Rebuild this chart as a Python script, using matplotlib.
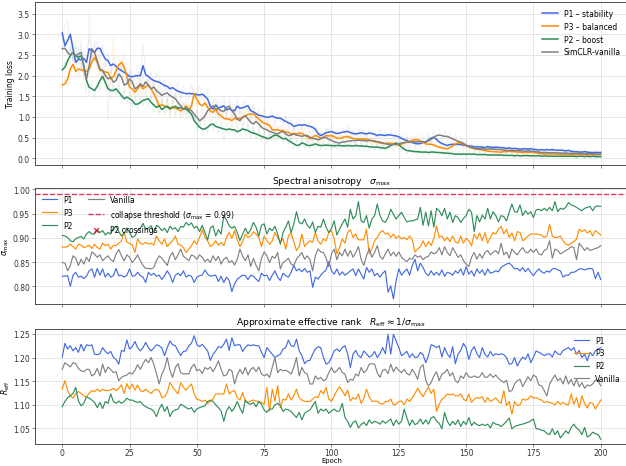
import numpy as np
import matplotlib
matplotlib.use("Agg")
import matplotlib.pyplot as plt

# smoothed training loss, one value per epoch (0..200)
loss_p1 = [3.03, 2.72, 2.85, 3.00, 2.65, 2.32, 2.40, 2.38, 2.42, 2.32,
           2.65, 2.60, 2.56, 2.66, 2.66, 2.52, 2.40, 2.36, 2.24, 2.28,
           2.22, 2.16, 2.12, 2.08, 2.04, 1.98, 1.97, 1.99, 2.00, 2.00,
           2.24, 2.02, 1.98, 1.92, 1.88, 1.86, 1.84, 1.80, 1.76, 1.74,
           1.68, 1.71, 1.66, 1.62, 1.60, 1.58, 1.56, 1.57, 1.56, 1.56,
           1.54, 1.53, 1.55, 1.50, 1.43, 1.26, 1.19, 1.29, 1.21, 1.24,
           1.27, 1.17, 1.20, 1.16, 1.15, 1.26, 1.21, 1.22, 1.25, 1.27,
           1.15, 1.12, 1.08, 1.04, 1.03, 1.01, 0.99, 1.00, 1.02, 0.99,
           0.97, 0.97, 0.93, 0.89, 0.86, 0.83, 0.77, 0.79, 0.81, 0.80,
           0.81, 0.79, 0.77, 0.75, 0.70, 0.60, 0.55, 0.58, 0.62, 0.63,
           0.65, 0.62, 0.60, 0.61, 0.63, 0.64, 0.65, 0.62, 0.60, 0.59,
           0.60, 0.62, 0.60, 0.59, 0.61, 0.60, 0.58, 0.55, 0.57, 0.56,
           0.55, 0.57, 0.56, 0.55, 0.54, 0.52, 0.48, 0.45, 0.43, 0.40,
           0.38, 0.36, 0.35, 0.36, 0.38, 0.40, 0.44, 0.49, 0.51, 0.46,
           0.39, 0.36, 0.33, 0.31, 0.33, 0.34, 0.33, 0.34, 0.33, 0.32,
           0.31, 0.30, 0.29, 0.28, 0.27, 0.28, 0.27, 0.26, 0.28, 0.27,
           0.26, 0.27, 0.26, 0.26, 0.25, 0.24, 0.25, 0.23, 0.24, 0.23,
           0.22, 0.23, 0.23, 0.22, 0.23, 0.22, 0.21, 0.20, 0.21, 0.20,
           0.21, 0.20, 0.21, 0.20, 0.19, 0.20, 0.19, 0.18, 0.19, 0.17,
           0.16, 0.16, 0.15, 0.15, 0.16, 0.15, 0.14, 0.14, 0.14, 0.14,
           0.14]
loss_p3 = [1.77, 1.80, 1.92, 2.16, 2.27, 2.10, 2.16, 2.14, 2.12, 2.10,
           2.15, 2.32, 2.44, 2.32, 2.12, 2.12, 2.08, 2.08, 1.92, 1.98,
           2.12, 2.26, 2.32, 2.20, 2.00, 1.72, 1.68, 1.60, 1.68, 1.77,
           1.68, 1.73, 1.77, 1.68, 1.56, 1.43, 1.27, 1.29, 1.27, 1.23,
           1.23, 1.23, 1.21, 1.19, 1.15, 1.19, 1.27, 1.15, 1.27, 1.56,
           1.43, 1.31, 1.27, 1.34, 1.23, 1.15, 1.11, 1.19, 1.07, 1.03,
           0.97, 0.95, 0.95, 0.91, 0.97, 0.94, 0.97, 0.99, 1.03, 1.06,
           1.07, 1.07, 1.01, 0.95, 0.89, 0.85, 0.83, 0.79, 0.69, 0.69,
           0.69, 0.67, 0.67, 0.63, 0.63, 0.59, 0.60, 0.59, 0.61, 0.60,
           0.56, 0.52, 0.47, 0.51, 0.55, 0.53, 0.48, 0.50, 0.55, 0.54,
           0.55, 0.52, 0.49, 0.48, 0.50, 0.52, 0.53, 0.50, 0.48, 0.47,
           0.46, 0.47, 0.46, 0.47, 0.44, 0.42, 0.40, 0.39, 0.37, 0.36,
           0.36, 0.37, 0.36, 0.35, 0.33, 0.32, 0.34, 0.37, 0.39, 0.41,
           0.43, 0.45, 0.45, 0.41, 0.38, 0.35, 0.34, 0.34, 0.32, 0.29,
           0.27, 0.25, 0.24, 0.23, 0.26, 0.30, 0.35, 0.37, 0.37, 0.34,
           0.31, 0.28, 0.25, 0.23, 0.22, 0.21, 0.20, 0.19, 0.17, 0.17,
           0.16, 0.16, 0.15, 0.15, 0.16, 0.16, 0.17, 0.16, 0.16, 0.15,
           0.15, 0.14, 0.15, 0.14, 0.15, 0.14, 0.13, 0.12, 0.11, 0.11,
           0.10, 0.11, 0.10, 0.11, 0.10, 0.10, 0.10, 0.09, 0.10, 0.09,
           0.09, 0.09, 0.10, 0.09, 0.09, 0.08, 0.09, 0.09, 0.08, 0.09,
           0.09]
loss_p2 = [2.14, 2.20, 2.36, 2.48, 2.56, 2.48, 2.44, 2.48, 2.24, 1.88,
           1.72, 1.68, 1.64, 1.74, 1.88, 1.98, 1.84, 1.68, 1.64, 1.64,
           1.68, 1.60, 1.52, 1.44, 1.48, 1.44, 1.40, 1.31, 1.31, 1.35,
           1.40, 1.42, 1.44, 1.35, 1.29, 1.23, 1.27, 1.18, 1.23, 1.26,
           1.19, 1.23, 1.26, 1.21, 1.23, 1.19, 1.19, 1.13, 1.07, 0.91,
           0.83, 0.75, 0.71, 0.71, 0.75, 0.81, 0.83, 0.77, 0.75, 0.73,
           0.71, 0.69, 0.71, 0.69, 0.69, 0.64, 0.67, 0.71, 0.69, 0.67,
           0.63, 0.61, 0.59, 0.56, 0.53, 0.51, 0.48, 0.48, 0.53, 0.56,
           0.55, 0.51, 0.47, 0.48, 0.43, 0.39, 0.35, 0.31, 0.32, 0.37,
           0.35, 0.31, 0.31, 0.32, 0.35, 0.32, 0.31, 0.31, 0.32, 0.31,
           0.31, 0.30, 0.31, 0.31, 0.30, 0.30, 0.31, 0.30, 0.30, 0.31,
           0.30, 0.30, 0.29, 0.29, 0.28, 0.27, 0.27, 0.27, 0.26, 0.25,
           0.24, 0.27, 0.31, 0.34, 0.37, 0.33, 0.27, 0.22, 0.19, 0.18,
           0.17, 0.16, 0.16, 0.15, 0.15, 0.15, 0.14, 0.15, 0.15, 0.14,
           0.14, 0.13, 0.13, 0.12, 0.12, 0.11, 0.10, 0.10, 0.10, 0.10,
           0.10, 0.10, 0.10, 0.10, 0.09, 0.09, 0.09, 0.09, 0.08, 0.08,
           0.08, 0.08, 0.08, 0.08, 0.07, 0.07, 0.07, 0.07, 0.06, 0.07,
           0.06, 0.06, 0.07, 0.06, 0.06, 0.06, 0.06, 0.06, 0.05, 0.06,
           0.05, 0.05, 0.05, 0.05, 0.05, 0.05, 0.05, 0.05, 0.05, 0.05,
           0.05, 0.04, 0.05, 0.05, 0.04, 0.05, 0.04, 0.05, 0.04, 0.04,
           0.04]
loss_vanilla = [2.65, 2.66, 2.56, 2.50, 2.56, 2.48, 2.52, 2.56, 2.24, 1.92,
                2.24, 2.65, 2.55, 2.36, 2.16, 2.12, 2.00, 1.92, 1.96, 1.84,
                1.88, 2.04, 1.96, 1.77, 1.80, 1.92, 1.84, 1.68, 1.72, 1.80,
                1.74, 1.85, 1.77, 1.68, 1.72, 1.64, 1.58, 1.52, 1.56, 1.58,
                1.52, 1.48, 1.44, 1.35, 1.27, 1.19, 1.23, 1.19, 1.15, 1.07,
                0.99, 0.91, 0.95, 1.03, 1.15, 1.21, 1.27, 1.19, 1.19, 1.15,
                1.13, 1.23, 1.26, 1.15, 1.07, 0.95, 0.91, 0.99, 1.03, 0.95,
                0.87, 0.83, 0.89, 0.83, 0.75, 0.71, 0.69, 0.65, 0.63, 0.60,
                0.59, 0.63, 0.65, 0.59, 0.55, 0.56, 0.59, 0.56, 0.55, 0.53,
                0.55, 0.55, 0.51, 0.48, 0.47, 0.45, 0.47, 0.51, 0.50, 0.46,
                0.43, 0.40, 0.38, 0.37, 0.39, 0.40, 0.41, 0.42, 0.43, 0.43,
                0.44, 0.43, 0.43, 0.42, 0.43, 0.43, 0.42, 0.40, 0.39, 0.37,
                0.35, 0.34, 0.33, 0.33, 0.34, 0.35, 0.37, 0.38, 0.39, 0.39,
                0.39, 0.40, 0.40, 0.41, 0.40, 0.39, 0.42, 0.46, 0.50, 0.55,
                0.56, 0.55, 0.53, 0.53, 0.50, 0.47, 0.44, 0.41, 0.39, 0.36,
                0.31, 0.28, 0.26, 0.24, 0.23, 0.23, 0.23, 0.22, 0.22, 0.23,
                0.22, 0.22, 0.21, 0.21, 0.20, 0.19, 0.19, 0.19, 0.18, 0.19,
                0.18, 0.18, 0.17, 0.18, 0.17, 0.17, 0.16, 0.15, 0.14, 0.14,
                0.14, 0.13, 0.14, 0.13, 0.13, 0.13, 0.12, 0.13, 0.12, 0.12,
                0.12, 0.12, 0.11, 0.12, 0.11, 0.11, 0.11, 0.11, 0.11, 0.10,
                0.10]

# raw per-epoch loss, drawn faintly behind the smoothed curves
raw_p1 = [2.95, 3.20, 3.33, 2.75, 2.40, 2.05, 2.70, 2.15, 2.60, 2.45,
          2.95, 2.35, 2.70, 2.85, 2.40, 2.75, 2.20, 2.55, 2.05, 2.45,
          2.30, 1.95, 2.40, 2.25, 1.80, 2.15, 1.85, 1.90, 2.25, 1.75,
          2.77, 2.05, 1.80, 2.10, 1.70, 2.05, 1.95, 1.55, 1.90, 1.60,
          1.85, 1.55, 1.50, 1.85, 1.45, 1.75, 1.65, 1.40, 1.80, 1.45,
          1.60, 1.75, 1.40, 1.55, 1.65, 1.05, 1.30, 1.45, 1.00, 1.35,
          1.50, 1.05, 1.25, 1.35, 0.95, 1.45, 1.05, 1.30, 1.40, 1.15,
          1.05, 1.30, 0.95, 1.15, 0.90, 1.20, 0.88, 1.05, 1.15, 0.85,
          1.10, 0.90, 0.85, 1.05, 0.75, 0.95, 0.65, 0.90, 0.95, 0.70,
          0.92, 0.70, 0.88, 0.65, 0.85, 0.50, 0.62, 0.48, 0.72, 0.68,
          0.78, 0.55, 0.70, 0.52, 0.75, 0.60, 0.78, 0.50, 0.68, 0.55,
          0.72, 0.55, 0.68, 0.50, 0.72, 0.55, 0.65, 0.48, 0.66, 0.50,
          0.62, 0.52, 0.66, 0.48, 0.62, 0.45, 0.55, 0.40, 0.50, 0.36,
          0.44, 0.32, 0.41, 0.30, 0.45, 0.35, 0.52, 0.44, 0.58, 0.40,
          0.45, 0.30, 0.38, 0.27, 0.40, 0.28, 0.39, 0.29, 0.38, 0.27,
          0.36, 0.25, 0.34, 0.24, 0.32, 0.24, 0.31, 0.22, 0.33, 0.23,
          0.31, 0.22, 0.30, 0.22, 0.29, 0.20, 0.29, 0.19, 0.28, 0.19,
          0.27, 0.18, 0.27, 0.18, 0.27, 0.18, 0.25, 0.16, 0.25, 0.16,
          0.25, 0.16, 0.25, 0.16, 0.23, 0.16, 0.23, 0.14, 0.23, 0.13,
          0.20, 0.12, 0.19, 0.11, 0.20, 0.11, 0.18, 0.10, 0.18, 0.11,
          0.16]
raw_p3 = [1.70, 1.95, 1.75, 2.35, 2.15, 2.45, 1.95, 2.30, 1.95, 2.25,
          1.95, 2.55, 2.30, 2.60, 1.90, 2.35, 1.90, 2.25, 1.70, 2.96,
          1.85, 2.45, 2.10, 2.55, 1.75, 1.95, 1.45, 1.85, 1.50, 1.95,
          1.55, 1.90, 1.60, 1.95, 1.35, 1.65, 1.10, 1.45, 1.05, 1.45,
          1.05, 1.40, 1.00, 1.35, 0.95, 1.40, 1.05, 1.35, 1.10, 1.75,
          1.25, 1.50, 1.10, 1.55, 1.05, 1.35, 0.95, 1.35, 0.90, 1.20,
          0.80, 1.10, 0.80, 1.10, 0.75, 1.15, 0.80, 1.15, 0.85, 1.25,
          0.90, 1.25, 0.85, 1.10, 0.75, 1.00, 0.70, 0.95, 0.55, 0.85,
          0.55, 0.82, 0.52, 0.78, 0.50, 0.75, 0.45, 0.75, 0.48, 0.75,
          0.42, 0.68, 0.35, 0.65, 0.42, 0.68, 0.38, 0.62, 0.42, 0.68,
          0.44, 0.65, 0.40, 0.60, 0.38, 0.64, 0.42, 0.62, 0.38, 0.58,
          0.38, 0.56, 0.37, 0.57, 0.35, 0.52, 0.31, 0.49, 0.28, 0.46,
          0.28, 0.46, 0.27, 0.45, 0.25, 0.42, 0.26, 0.47, 0.30, 0.51,
          0.34, 0.55, 0.36, 0.51, 0.29, 0.45, 0.26, 0.43, 0.24, 0.38,
          0.20, 0.32, 0.18, 0.30, 0.20, 0.38, 0.28, 0.45, 0.30, 0.42,
          0.24, 0.35, 0.19, 0.30, 0.16, 0.28, 0.15, 0.25, 0.12, 0.23,
          0.11, 0.22, 0.10, 0.21, 0.11, 0.22, 0.12, 0.22, 0.11, 0.20,
          0.10, 0.20, 0.10, 0.19, 0.10, 0.19, 0.08, 0.17, 0.07, 0.16,
          0.06, 0.15, 0.06, 0.15, 0.06, 0.14, 0.06, 0.13, 0.06, 0.13,
          0.05, 0.13, 0.06, 0.13, 0.05, 0.12, 0.05, 0.13, 0.04, 0.12,
          0.06]
raw_p2 = [2.05, 2.35, 2.20, 2.70, 2.35, 2.75, 2.25, 2.70, 2.00, 2.10,
          1.50, 1.90, 1.45, 1.85, 1.65, 2.20, 1.65, 1.95, 1.45, 1.80,
          1.50, 1.80, 1.35, 1.65, 1.30, 1.60, 1.25, 1.50, 1.15, 1.50,
          1.25, 1.60, 1.25, 1.55, 1.10, 1.45, 1.05, 1.40, 1.05, 1.45,
          1.00, 1.40, 1.05, 1.40, 1.05, 1.35, 1.00, 1.30, 0.90, 1.10,
          0.65, 0.95, 0.55, 0.85, 0.60, 0.95, 0.65, 0.95, 0.60, 0.90,
          0.40, 0.85, 0.55, 0.85, 0.55, 0.80, 0.52, 0.85, 0.55, 0.82,
          0.48, 0.75, 0.45, 0.72, 0.40, 0.65, 0.35, 0.62, 0.40, 0.70,
          0.42, 0.65, 0.35, 0.60, 0.32, 0.52, 0.22, 0.45, 0.20, 0.50,
          0.22, 0.45, 0.20, 0.45, 0.22, 0.48, 0.20, 0.42, 0.20, 0.44,
          0.20, 0.42, 0.20, 0.42, 0.19, 0.41, 0.20, 0.40, 0.19, 0.42,
          0.19, 0.41, 0.18, 0.40, 0.18, 0.37, 0.17, 0.37, 0.16, 0.35,
          0.14, 0.37, 0.22, 0.46, 0.28, 0.44, 0.16, 0.32, 0.10, 0.27,
          0.09, 0.24, 0.09, 0.22, 0.08, 0.22, 0.07, 0.22, 0.08, 0.21,
          0.07, 0.21, 0.06, 0.19, 0.05, 0.18, 0.04, 0.16, 0.04, 0.16,
          0.04, 0.16, 0.04, 0.16, 0.03, 0.15, 0.03, 0.15, 0.03, 0.14,
          0.03, 0.14, 0.03, 0.14, 0.03, 0.12, 0.03, 0.12, 0.02, 0.12,
          0.02, 0.11, 0.02, 0.11, 0.02, 0.11, 0.02, 0.11, 0.02, 0.11,
          0.02, 0.10, 0.02, 0.10, 0.02, 0.10, 0.02, 0.10, 0.02, 0.10,
          0.02, 0.09, 0.02, 0.09, 0.02, 0.09, 0.02, 0.09, 0.02, 0.08,
          0.02]
raw_vanilla = [2.55, 2.80, 2.45, 2.70, 2.35, 2.70, 2.30, 2.85, 1.95, 1.55,
               3.60, 2.40, 2.85, 2.10, 2.45, 1.85, 2.25, 0.91, 2.15, 1.60,
               2.10, 1.75, 2.30, 1.55, 2.05, 1.60, 2.15, 1.45, 2.00, 1.50,
               2.05, 1.55, 2.00, 1.45, 1.95, 1.40, 1.85, 1.30, 1.80, 1.35,
               1.75, 1.30, 1.65, 1.15, 1.50, 1.00, 1.45, 0.95, 1.40, 0.85,
               1.20, 0.75, 1.15, 0.85, 1.35, 1.00, 1.45, 1.00, 1.40, 0.95,
               1.35, 1.00, 1.45, 0.95, 1.30, 0.75, 1.15, 0.80, 1.25, 0.75,
               1.05, 0.65, 1.10, 0.62, 0.95, 0.55, 0.90, 0.45, 0.85, 0.40,
               0.80, 0.45, 0.85, 0.40, 0.75, 0.38, 0.78, 0.38, 0.75, 0.35,
               0.75, 0.35, 0.72, 0.30, 0.68, 0.28, 0.65, 0.32, 0.70, 0.30,
               0.60, 0.25, 0.55, 0.22, 0.58, 0.24, 0.60, 0.25, 0.62, 0.26,
               0.62, 0.26, 0.62, 0.25, 0.62, 0.26, 0.60, 0.22, 0.58, 0.20,
               0.52, 0.18, 0.50, 0.17, 0.52, 0.18, 0.55, 0.22, 0.56, 0.22,
               0.56, 0.24, 0.57, 0.25, 0.56, 0.24, 0.60, 0.32, 0.68, 0.42,
               0.72, 0.40, 0.70, 0.38, 0.66, 0.30, 0.60, 0.25, 0.55, 0.20,
               0.45, 0.16, 0.38, 0.14, 0.33, 0.14, 0.32, 0.13, 0.31, 0.14,
               0.30, 0.13, 0.30, 0.12, 0.28, 0.11, 0.27, 0.11, 0.26, 0.11,
               0.25, 0.10, 0.25, 0.10, 0.24, 0.09, 0.23, 0.08, 0.21, 0.07,
               0.21, 0.06, 0.21, 0.06, 0.20, 0.06, 0.19, 0.06, 0.19, 0.05,
               0.19, 0.05, 0.18, 0.05, 0.18, 0.04, 0.17, 0.04, 0.17, 0.04,
               0.16]

# largest normalised singular value per epoch
sigma_p1 = [0.821, 0.821, 0.822, 0.800, 0.823, 0.829, 0.819, 0.821, 0.816, 0.821,
            0.832, 0.836, 0.819, 0.837, 0.823, 0.836, 0.819, 0.827, 0.819, 0.822,
            0.837, 0.822, 0.823, 0.819, 0.823, 0.836, 0.821, 0.822, 0.829, 0.822,
            0.819, 0.808, 0.829, 0.823, 0.827, 0.821, 0.823, 0.814, 0.822, 0.832,
            0.823, 0.808, 0.823, 0.827, 0.822, 0.832, 0.819, 0.823, 0.821, 0.808,
            0.819, 0.822, 0.823, 0.834, 0.825, 0.821, 0.822, 0.823, 0.810, 0.821,
            0.808, 0.819, 0.812, 0.789, 0.805, 0.815, 0.819, 0.823, 0.822, 0.814,
            0.823, 0.821, 0.815, 0.810, 0.827, 0.822, 0.823, 0.812, 0.823, 0.832,
            0.819, 0.812, 0.827, 0.822, 0.819, 0.829, 0.843, 0.832, 0.836, 0.830,
            0.837, 0.829, 0.832, 0.798, 0.819, 0.815, 0.823, 0.829, 0.834, 0.851,
            0.832, 0.825, 0.836, 0.823, 0.830, 0.823, 0.827, 0.832, 0.836, 0.822,
            0.836, 0.825, 0.815, 0.839, 0.829, 0.836, 0.822, 0.827, 0.819, 0.827,
            0.832, 0.788, 0.801, 0.774, 0.812, 0.836, 0.823, 0.830, 0.836, 0.823,
            0.843, 0.856, 0.832, 0.848, 0.839, 0.827, 0.822, 0.832, 0.823, 0.829,
            0.823, 0.834, 0.821, 0.829, 0.827, 0.823, 0.832, 0.827, 0.836, 0.823,
            0.841, 0.825, 0.832, 0.821, 0.836, 0.827, 0.834, 0.823, 0.836, 0.827,
            0.829, 0.832, 0.830, 0.839, 0.843, 0.846, 0.848, 0.843, 0.836, 0.837,
            0.832, 0.839, 0.830, 0.837, 0.829, 0.822, 0.830, 0.836, 0.830, 0.827,
            0.832, 0.829, 0.836, 0.837, 0.834, 0.832, 0.819, 0.823, 0.823, 0.829,
            0.829, 0.832, 0.836, 0.836, 0.834, 0.836, 0.837, 0.836, 0.816, 0.829,
            0.814]
sigma_p3 = [0.881, 0.881, 0.882, 0.887, 0.882, 0.877, 0.887, 0.885, 0.880, 0.882,
            0.885, 0.878, 0.887, 0.880, 0.877, 0.889, 0.884, 0.887, 0.877, 0.885,
            0.884, 0.889, 0.894, 0.911, 0.891, 0.889, 0.885, 0.870, 0.898, 0.889,
            0.887, 0.891, 0.887, 0.889, 0.885, 0.904, 0.894, 0.887, 0.898, 0.882,
            0.889, 0.894, 0.904, 0.887, 0.885, 0.880, 0.870, 0.877, 0.884, 0.894,
            0.887, 0.901, 0.917, 0.901, 0.894, 0.882, 0.887, 0.894, 0.885, 0.891,
            0.884, 0.901, 0.911, 0.899, 0.915, 0.896, 0.882, 0.892, 0.908, 0.901,
            0.904, 0.913, 0.908, 0.901, 0.882, 0.904, 0.894, 0.887, 0.894, 0.911,
            0.901, 0.892, 0.898, 0.877, 0.904, 0.911, 0.892, 0.874, 0.882, 0.908,
            0.882, 0.889, 0.894, 0.891, 0.911, 0.894, 0.887,
            0.898, 0.894, 0.911, 0.915, 0.898, 0.867, 0.880, 0.898, 0.889, 0.911,
            0.917, 0.901, 0.908, 0.896, 0.896, 0.896, 0.918, 0.867, 0.878, 0.894,
            0.901, 0.911, 0.915, 0.908, 0.910, 0.901, 0.908, 0.899, 0.904, 0.898,
            0.901, 0.896, 0.904, 0.896, 0.871, 0.877, 0.882, 0.894, 0.882, 0.892,
            0.884, 0.899, 0.925, 0.901, 0.904, 0.894, 0.901, 0.892, 0.904, 0.892,
            0.889, 0.904, 0.889, 0.899, 0.894, 0.884, 0.908, 0.898, 0.910, 0.894,
            0.911, 0.889, 0.901, 0.911, 0.908, 0.918, 0.924, 0.908, 0.918, 0.901,
            0.910, 0.894, 0.913, 0.911, 0.894, 0.898, 0.904, 0.908, 0.908, 0.908,
            0.907, 0.906, 0.901, 0.904, 0.928, 0.904, 0.901, 0.901, 0.904, 0.894,
            0.887, 0.885, 0.889, 0.892, 0.898, 0.918, 0.913, 0.917, 0.910, 0.915,
            0.904, 0.915, 0.911, 0.906]
sigma_p2 = [0.905, 0.904, 0.901, 0.894, 0.892, 0.898, 0.901, 0.903, 0.898, 0.908,
            0.913, 0.908, 0.908, 0.917, 0.911, 0.915, 0.906, 0.911, 0.908, 0.920,
            0.924, 0.913, 0.904, 0.910, 0.920, 0.911, 0.901, 0.904, 0.915, 0.920,
            0.930, 0.918, 0.920, 0.925, 0.911, 0.926, 0.922, 0.915, 0.920, 0.911,
            0.924, 0.918, 0.921, 0.913, 0.924, 0.922, 0.932, 0.926, 0.931, 0.920,
            0.924, 0.913, 0.926, 0.911, 0.896, 0.920, 0.925, 0.904, 0.917, 0.908,
            0.946, 0.937, 0.925, 0.920, 0.924, 0.911, 0.894, 0.908, 0.920, 0.908,
            0.917, 0.932, 0.922, 0.904, 0.926, 0.929, 0.908, 0.920, 0.915, 0.924,
            0.908, 0.887, 0.911, 0.922, 0.935, 0.911, 0.929, 0.954, 0.932, 0.929,
            0.939, 0.926, 0.920, 0.933, 0.911, 0.924, 0.922,
            0.939, 0.922, 0.911, 0.920, 0.935, 0.906, 0.918, 0.929, 0.939, 0.922,
            0.959, 0.939, 0.946, 0.975, 0.935, 0.932, 0.946, 0.920, 0.939, 0.946,
            0.970, 0.946, 0.935, 0.932, 0.942, 0.959, 0.949, 0.939, 0.946, 0.953,
            0.942, 0.933, 0.935, 0.935, 0.937, 0.939, 0.963, 0.926, 0.953, 0.925,
            0.956, 0.922, 0.961, 0.956, 0.946, 0.961, 0.939, 0.953, 0.932, 0.946,
            0.942, 0.932, 0.940, 0.946, 0.959, 0.953, 0.913, 0.946, 0.933, 0.947,
            0.939, 0.961, 0.939, 0.954, 0.946, 0.933, 0.946, 0.944, 0.935, 0.953,
            0.970, 0.954, 0.953, 0.968, 0.946, 0.956, 0.949, 0.954, 0.942, 0.958,
            0.959, 0.956, 0.961, 0.956, 0.963, 0.956, 0.975, 0.954, 0.961, 0.959,
            0.963, 0.973, 0.968, 0.966, 0.963, 0.959, 0.956, 0.961, 0.963, 0.965,
            0.956, 0.965, 0.966, 0.965]
sigma_vanilla = [0.849, 0.848, 0.832, 0.843, 0.863, 0.858, 0.843, 0.856, 0.846, 0.860,
                 0.851, 0.871, 0.867, 0.860, 0.865, 0.853, 0.858, 0.863, 0.855, 0.851,
                 0.867, 0.876, 0.863, 0.853, 0.865, 0.860, 0.849, 0.856, 0.865, 0.853,
                 0.843, 0.837, 0.837, 0.836, 0.839, 0.853, 0.863, 0.858, 0.851, 0.843,
                 0.862, 0.870, 0.855, 0.865, 0.877, 0.862, 0.858, 0.853, 0.865, 0.862,
                 0.856, 0.865, 0.860, 0.851, 0.856, 0.849, 0.863, 0.853, 0.862, 0.846,
                 0.856, 0.860, 0.849, 0.853, 0.844, 0.856, 0.877, 0.862, 0.853, 0.865,
                 0.841, 0.858, 0.843, 0.832, 0.858, 0.871, 0.863, 0.849, 0.862, 0.858,
                 0.870, 0.836, 0.849, 0.853, 0.858, 0.846, 0.843, 0.856, 0.863, 0.870,
                 0.856, 0.863, 0.855, 0.832, 0.863, 0.877, 0.871,
                 0.870, 0.858, 0.841, 0.867, 0.877, 0.855, 0.870, 0.863, 0.877, 0.862,
                 0.874, 0.860, 0.870, 0.882, 0.856, 0.843, 0.863, 0.878, 0.860, 0.870,
                 0.884, 0.862, 0.856, 0.867, 0.877, 0.863, 0.871, 0.862, 0.871, 0.860,
                 0.855, 0.851, 0.858, 0.856, 0.865, 0.860, 0.863, 0.855, 0.860, 0.862,
                 0.871, 0.867, 0.870, 0.880, 0.865, 0.882, 0.870, 0.863, 0.880, 0.870,
                 0.860, 0.865, 0.853, 0.846, 0.841, 0.860, 0.870, 0.856, 0.867, 0.858,
                 0.870, 0.874, 0.865, 0.870, 0.874, 0.867, 0.889, 0.865, 0.871, 0.858,
                 0.877, 0.870, 0.865, 0.874, 0.880, 0.871, 0.869, 0.877, 0.870, 0.877,
                 0.867, 0.865, 0.874, 0.877, 0.894, 0.858, 0.877, 0.874, 0.867, 0.870,
                 0.874, 0.877, 0.882, 0.880, 0.855, 0.889, 0.882, 0.874, 0.880, 0.874,
                 0.876, 0.878, 0.880, 0.884]

# approximate effective rank per epoch
reff_p1 = [1.201, 1.230, 1.218, 1.225, 1.214, 1.221, 1.211, 1.228, 1.214, 1.227,
           1.225, 1.227, 1.207, 1.206, 1.208, 1.221, 1.213, 1.208, 1.213, 1.200,
           1.196, 1.186, 1.215, 1.213, 1.237, 1.218, 1.223, 1.234, 1.221, 1.214,
           1.221, 1.232, 1.221, 1.214, 1.220, 1.227, 1.225, 1.220, 1.204, 1.221,
           1.235, 1.227, 1.225, 1.214, 1.204, 1.213, 1.214, 1.225, 1.230, 1.246,
           1.227, 1.223, 1.228, 1.221, 1.214, 1.194, 1.207, 1.214, 1.223, 1.221,
           1.228, 1.239, 1.215, 1.242, 1.225, 1.227, 1.227, 1.213, 1.221, 1.227,
           1.225, 1.227, 1.225, 1.225, 1.211, 1.200, 1.221, 1.214, 1.207, 1.200,
           1.204, 1.207, 1.218, 1.221, 1.237, 1.225, 1.223, 1.239, 1.214, 1.204,
           1.187, 1.193, 1.194, 1.207, 1.218, 1.223, 1.221,
           1.200, 1.186, 1.189, 1.200, 1.214, 1.218, 1.213, 1.221, 1.225, 1.208,
           1.179, 1.207, 1.215, 1.204, 1.200, 1.214, 1.208, 1.201, 1.204, 1.213,
           1.200, 1.208, 1.221, 1.208, 1.249, 1.207, 1.249, 1.235, 1.221, 1.204,
           1.208, 1.213, 1.200, 1.208, 1.200, 1.201, 1.211, 1.206, 1.189, 1.204,
           1.227, 1.225, 1.221, 1.225, 1.201, 1.221, 1.208, 1.200, 1.223, 1.187,
           1.207, 1.215, 1.230, 1.221, 1.196, 1.215, 1.223, 1.208, 1.200, 1.221,
           1.207, 1.201, 1.213, 1.204, 1.208, 1.206, 1.208, 1.206, 1.200, 1.186,
           1.187, 1.200, 1.182, 1.193, 1.201, 1.196, 1.208, 1.189, 1.201, 1.214,
           1.211, 1.208, 1.204, 1.207, 1.208, 1.201, 1.214, 1.208, 1.206, 1.215,
           1.218, 1.221, 1.215, 1.221, 1.207, 1.215, 1.200, 1.207, 1.193, 1.211,
           1.204, 1.214, 1.218, 1.221]
reff_p3 = [1.133, 1.151, 1.130, 1.119, 1.114, 1.124, 1.128, 1.124, 1.119, 1.117,
           1.124, 1.130, 1.128, 1.133, 1.128, 1.133, 1.130, 1.130, 1.131, 1.135,
           1.130, 1.135, 1.142, 1.124, 1.145, 1.133, 1.144, 1.131, 1.142, 1.130,
           1.128, 1.133, 1.128, 1.124, 1.130, 1.133, 1.130, 1.115, 1.117, 1.126,
           1.147, 1.138, 1.130, 1.123, 1.147, 1.137, 1.131, 1.138, 1.144, 1.123,
           1.112, 1.110, 1.107, 1.110, 1.103, 1.107, 1.112, 1.123, 1.123, 1.123,
           1.123, 1.144, 1.123, 1.128, 1.130, 1.115, 1.110, 1.126, 1.107, 1.105,
           1.108, 1.110, 1.108, 1.107, 1.105, 1.101, 1.137, 1.087, 1.133, 1.108,
           1.140, 1.094, 1.112, 1.110, 1.123, 1.110, 1.119, 1.133, 1.115, 1.110,
           1.107, 1.107, 1.107, 1.112, 1.117, 1.115, 1.130,
           1.123, 1.137, 1.112, 1.107, 1.119, 1.130, 1.138, 1.130, 1.119, 1.131,
           1.108, 1.115, 1.112, 1.123, 1.103, 1.114, 1.133, 1.117, 1.107, 1.108,
           1.107, 1.103, 1.101, 1.107, 1.107, 1.112, 1.100, 1.101, 1.107, 1.108,
           1.100, 1.112, 1.107, 1.115, 1.124, 1.135, 1.126, 1.117, 1.128, 1.138,
           1.124, 1.133, 1.086, 1.101, 1.112, 1.115, 1.123, 1.121, 1.123, 1.119,
           1.119, 1.123, 1.112, 1.108, 1.123, 1.105, 1.112, 1.115, 1.114, 1.117,
           1.105, 1.115, 1.107, 1.110, 1.115, 1.107, 1.103, 1.130, 1.098, 1.107,
           1.080, 1.107, 1.098, 1.100, 1.112, 1.110, 1.112, 1.119, 1.114, 1.115,
           1.112, 1.110, 1.105, 1.107, 1.105, 1.103, 1.100, 1.107, 1.101, 1.105,
           1.101, 1.100, 1.123, 1.101, 1.115, 1.094, 1.119, 1.103, 1.093, 1.105,
           1.103, 1.091, 1.101, 1.110]
reff_p2 = [1.096, 1.107, 1.115, 1.119, 1.124, 1.137, 1.108, 1.098, 1.103, 1.117,
           1.114, 1.110, 1.105, 1.094, 1.105, 1.092, 1.107, 1.103, 1.123, 1.107,
           1.103, 1.108, 1.103, 1.107, 1.114, 1.110, 1.110, 1.107, 1.105, 1.107,
           1.100, 1.096, 1.093, 1.091, 1.086, 1.075, 1.091, 1.101, 1.086, 1.096,
           1.075, 1.086, 1.089, 1.091, 1.101, 1.098, 1.094, 1.091, 1.094, 1.084,
           1.091, 1.094, 1.096, 1.098, 1.107, 1.110, 1.107, 1.100, 1.094, 1.087,
           1.065, 1.087, 1.096, 1.086, 1.094, 1.107, 1.093, 1.082, 1.110, 1.103,
           1.101, 1.105, 1.096, 1.107, 1.101, 1.089, 1.084, 1.091, 1.091, 1.100,
           1.103, 1.098, 1.086, 1.091, 1.089, 1.086, 1.079, 1.073, 1.084, 1.068,
           1.082, 1.086, 1.089, 1.098, 1.107, 1.082, 1.091,
           1.087, 1.091, 1.082, 1.087, 1.091, 1.086, 1.087, 1.103, 1.073, 1.065,
           1.052, 1.063, 1.066, 1.051, 1.058, 1.063, 1.056, 1.068, 1.061, 1.065,
           1.063, 1.059, 1.066, 1.061, 1.065, 1.070, 1.056, 1.068, 1.059, 1.065,
           1.091, 1.072, 1.056, 1.068, 1.058, 1.061, 1.070, 1.059, 1.068, 1.059,
           1.072, 1.075, 1.066, 1.061, 1.049, 1.084, 1.065, 1.056, 1.065, 1.058,
           1.068, 1.054, 1.065, 1.058, 1.073, 1.056, 1.063, 1.058, 1.056, 1.059,
           1.056, 1.059, 1.051, 1.063, 1.059, 1.058, 1.054, 1.059, 1.065, 1.072,
           1.049, 1.054, 1.056, 1.058, 1.059, 1.061, 1.063, 1.066, 1.070, 1.049,
           1.049, 1.046, 1.045, 1.039, 1.037, 1.049, 1.037, 1.045, 1.030, 1.037,
           1.045, 1.039, 1.052, 1.059, 1.051, 1.046, 1.037, 1.052, 1.032, 1.035,
           1.042, 1.039, 1.037, 1.027]
reff_vanilla = [1.175, 1.189, 1.185, 1.180, 1.189, 1.187, 1.177, 1.172, 1.170, 1.175,
                1.175, 1.161, 1.165, 1.177, 1.161, 1.186, 1.168, 1.180, 1.175, 1.168,
                1.170, 1.151, 1.158, 1.161, 1.163, 1.168, 1.165, 1.173, 1.185, 1.175,
                1.187, 1.196, 1.189, 1.200, 1.186, 1.166, 1.144, 1.165, 1.177, 1.200,
                1.173, 1.158, 1.179, 1.187, 1.168, 1.165, 1.166, 1.165, 1.179, 1.186,
                1.172, 1.175, 1.166, 1.179, 1.175, 1.180, 1.170, 1.180, 1.193, 1.175,
                1.161, 1.163, 1.175, 1.172, 1.144, 1.163, 1.175, 1.165, 1.179, 1.163,
                1.175, 1.179, 1.170, 1.180, 1.165, 1.161, 1.165, 1.158, 1.179, 1.200,
                1.168, 1.175, 1.172, 1.173, 1.170, 1.165, 1.179, 1.200, 1.161, 1.179,
                1.168, 1.165, 1.144, 1.144, 1.161, 1.154, 1.158,
                1.151, 1.154, 1.168, 1.179, 1.168, 1.172, 1.179, 1.168, 1.165, 1.147,
                1.154, 1.152, 1.165, 1.161, 1.179, 1.168, 1.173, 1.186, 1.187, 1.186,
                1.168, 1.158, 1.173, 1.175, 1.166, 1.186, 1.170, 1.180, 1.173, 1.168,
                1.175, 1.166, 1.163, 1.175, 1.166, 1.154, 1.179, 1.185, 1.152, 1.140,
                1.147, 1.161, 1.170, 1.151, 1.165, 1.168, 1.175, 1.161, 1.168, 1.151,
                1.147, 1.161, 1.156, 1.168, 1.159, 1.158, 1.161, 1.158, 1.159, 1.168,
                1.158, 1.159, 1.165, 1.158, 1.163, 1.156, 1.151, 1.147, 1.152, 1.128,
                1.130, 1.144, 1.151, 1.154, 1.138, 1.149, 1.159, 1.151, 1.163, 1.159,
                1.142, 1.140, 1.130, 1.119, 1.144, 1.154, 1.163, 1.151, 1.156, 1.144,
                1.161, 1.144, 1.154, 1.140, 1.154, 1.138, 1.147, 1.135, 1.142, 1.140,
                1.144, 1.152, 1.151, 1.140]

loss_labels = ["P1 – stability", "P3 – balanced", "P2 – boost", "SimCLR-vanilla"]
short_labels = ["P1", "P3", "P2", "Vanilla"]
colors = ["royalblue", "darkorange", "seagreen", "grey"]
collapse_threshold = 0.99

plt.rcParams.update({
    "font.size": 10,
    "axes.edgecolor": "#444444",
    "axes.linewidth": 1.2,
    "xtick.color": "#444444",
    "ytick.color": "#444444",
    "xtick.labelcolor": "#333333",
    "ytick.labelcolor": "#333333",
})

fig = plt.figure(figsize=(626 / 55, 467 / 55), dpi=55)
ax1 = fig.add_axes([0.0564, 0.6452, 0.9463, 0.3484])
ax2 = fig.add_axes([0.0564, 0.3463, 0.9463, 0.2490], sharex=ax1)
ax3 = fig.add_axes([0.0564, 0.0471, 0.9463, 0.2469], sharex=ax1)

# training loss: raw values faint, smoothed values on top
for series, col in zip([raw_p1, raw_p3, raw_p2, raw_vanilla], colors):
    ax1.plot(np.arange(len(series)), series, color=col, lw=1.2, alpha=0.1)
for series, lab, col in zip([loss_p1, loss_p3, loss_p2, loss_vanilla], loss_labels, colors):
    ax1.plot(np.arange(len(series)), series, color=col, lw=2, label=lab)
ax1.set_ylabel("Training loss")
ax1.set_ylim(-0.155, 3.78)
ax1.legend(loc="upper right", frameon=False)

# spectral anisotropy
for series, lab, col in zip([sigma_p1, sigma_p3, sigma_p2, sigma_vanilla], short_labels, colors):
    ax2.plot(np.arange(len(series)), series, color=col, lw=1.5, label=lab)
ax2.axhline(collapse_threshold, color="crimson", ls="--", lw=1.8, alpha=0.85,
            label=r"collapse threshold ($\sigma_{\max}$ = 0.99)")
p2 = np.array(sigma_p2)
hit = np.where(p2 >= collapse_threshold)[0]
ax2.scatter(hit, p2[hit], marker="x", color="crimson", s=40, label="P2 crossings")
ax2.set_ylim(0.763, 1.003)
ax2.set_ylabel(r"$\sigma_{\max}$", labelpad=2)
ax2.set_title(r"Spectral anisotropy   $\sigma_{\max}$")
ax2.legend(loc="upper left", ncol=2, frameon=False)

# effective rank
for series, lab, col in zip([reff_p1, reff_p3, reff_p2, reff_vanilla], short_labels, colors):
    ax3.plot(np.arange(len(series)), series, color=col, lw=1.5, label=lab)
ax3.set_ylim(1.017, 1.261)
ax3.set_ylabel(r"$R_{\rm eff}$", labelpad=2)
ax3.set_title(r"Approximate effective rank   $R_{\rm eff} \approx 1/\sigma_{\max}$")
ax3.tick_params(axis="x", pad=2)
ax3.set_xlabel("Epoch", fontsize=9, labelpad=0)
ax3.legend(loc="upper right", frameon=False)

for ax in (ax1, ax2, ax3):
    ax.grid(True, color="#dddddd", lw=0.9)
    ax.set_axisbelow(True)
ax1.set_xlim(-10, 210)
ax1.set_xticks(np.arange(0, 201, 25))
ax1.tick_params(labelbottom=False)
ax2.tick_params(labelbottom=False)
ax1.set_yticks(np.arange(0, 3.51, 0.5))
ax2.set_yticks(np.arange(0.80, 1.001, 0.05))
ax3.set_yticks(np.arange(1.05, 1.251, 0.05))

fig.savefig("out.png", dpi=55)
